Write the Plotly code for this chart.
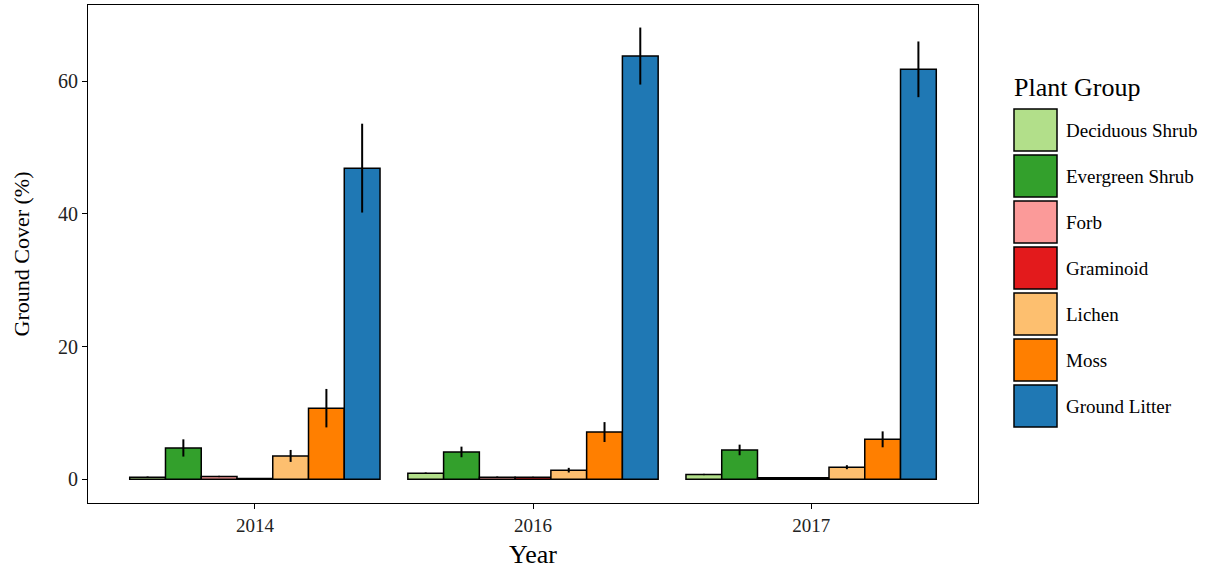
import plotly.graph_objects as go

# data
years = ["2014", "2016", "2017"]
groups = ["Deciduous Shrub", "Evergreen Shrub", "Forb", "Graminoid",
          "Lichen", "Moss", "Ground Litter"]
colors = ["#B2DF8A", "#33A02C", "#FB9A99", "#E31A1C",
          "#FDBF6F", "#FF7F00", "#1F78B4"]

deciduous = [0.3, 0.9, 0.7]
evergreen = [4.7, 4.1, 4.4]
forb = [0.4, 0.3, 0.2]
graminoid = [0.1, 0.3, 0.2]
lichen = [3.5, 1.35, 1.8]
moss = [10.7, 7.1, 6.0]
litter = [46.9, 63.8, 61.8]

deciduous_se = [0.1, 0.1, 0.1]
evergreen_se = [1.3, 0.8, 0.8]
forb_se = [0.1, 0.1, 0.05]
graminoid_se = [0.05, 0.05, 0.05]
lichen_se = [0.9, 0.35, 0.3]
moss_se = [2.9, 1.5, 1.2]
litter_se = [6.7, 4.3, 4.2]

values = [deciduous, evergreen, forb, graminoid, lichen, moss, litter]
errors = [deciduous_se, evergreen_se, forb_se, graminoid_se, lichen_se, moss_se, litter_se]

W, H = 1212, 571
L, R, T, B = 88, 978, 5, 503
FONT = "Liberation Serif"

fig = go.Figure()

for name, col, v, e in zip(groups, colors, values, errors):
    fig.add_trace(go.Bar(
        x=years, y=v, name=name,
        marker=dict(color=col, line=dict(color="black", width=1.5)),
        error_y=dict(type="data", array=e, color="black", thickness=2, width=0),
        showlegend=False,
    ))

# legend drawn by hand so the keys are big boxes like the original
def px_x(px):
    return (px - L) / (R - L)

def px_y(py):
    return (B - py) / (B - T)

shapes = []
annotations = [dict(
    x=px_x(1012), y=px_y(88), xref="paper", yref="paper",
    text="Plant Group", showarrow=False, xanchor="left", yanchor="middle",
    font=dict(family=FONT, size=26, color="black"))]

for i, (name, col) in enumerate(zip(groups, colors)):
    cy = 130 + i * 46
    shapes.append(dict(
        type="rect", xref="paper", yref="paper",
        x0=px_x(1014), x1=px_x(1057), y0=px_y(cy + 21), y1=px_y(cy - 21),
        fillcolor=col, line=dict(color="black", width=1.5)))
    annotations.append(dict(
        x=px_x(1064), y=px_y(cy), xref="paper", yref="paper",
        text=name, showarrow=False, xanchor="left", yanchor="middle",
        font=dict(family=FONT, size=19, color="black")))

fig.update_layout(
    width=W, height=H,
    margin=dict(l=L, r=W - R, t=T, b=H - B),
    barmode="group", bargap=0.1, bargroupgap=0,
    plot_bgcolor="white", paper_bgcolor="white",
    font=dict(family=FONT, size=19, color="black"),
    shapes=shapes, annotations=annotations,
    xaxis=dict(
        title=dict(text="Year", font=dict(size=26), standoff=10),
        range=[-0.6, 2.6],
        showline=True, linecolor="black", linewidth=1, mirror=True,
        ticks="outside", ticklen=5, tickcolor="black",
        showgrid=False, tickfont=dict(size=19, color="#222"),
    ),
    yaxis=dict(
        title=dict(text="Ground Cover (%)", font=dict(size=22), standoff=22),
        range=[-3.6, 71.5], tickvals=[0, 20, 40, 60],
        showline=True, linecolor="black", linewidth=1, mirror=True,
        ticks="outside", ticklen=5, tickcolor="black",
        showgrid=False, zeroline=False, tickfont=dict(size=20, color="#222"),
    ),
)

# page body has an 8px default margin; drop it so the chart sits at the corner
fig.write_html("out.html", config={"displayModeBar": False},
               post_script="document.body.style.margin='0';")
